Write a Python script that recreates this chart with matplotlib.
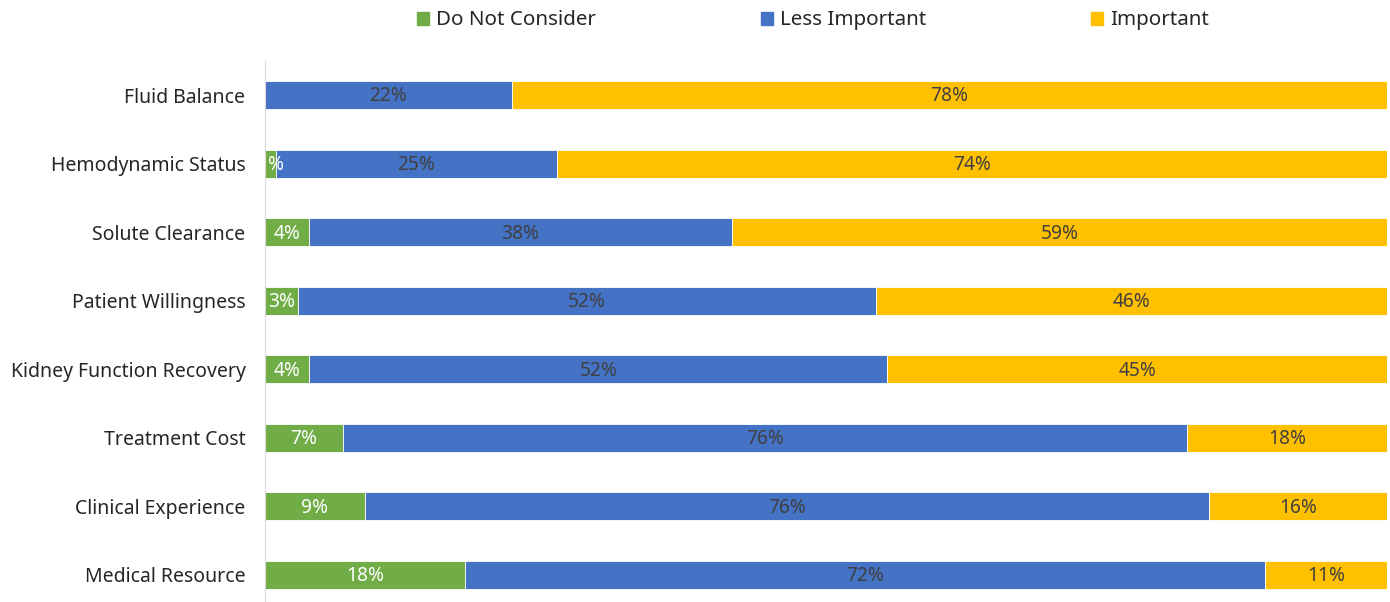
import numpy as np
import matplotlib.pyplot as plt
from matplotlib.patches import Patch

plt.rcParams['font.family'] = ['Noto Sans', 'DejaVu Sans']

categories = ['Fluid Balance', 'Hemodynamic Status', 'Solute Clearance', 'Patient Willingness',
              'Kidney Function Recovery', 'Treatment Cost', 'Clinical Experience', 'Medical Resource']
do_not_consider = [0, 1, 4, 3, 4, 7, 9, 18]
less_important = [22, 25, 38, 52, 52, 76, 76, 72]
important = [78, 74, 59, 46, 45, 18, 16, 11]

series_names = ['Do Not Consider', 'Less Important', 'Important']
series_colors = ['#70ad47', '#4472c4', '#ffc000']
label_colors = ['white', '#404040', '#404040']

data = np.array([do_not_consider, less_important, important], dtype=float)
totals = data.sum(axis=0)
shares = data / totals

fig = plt.figure(figsize=(13.9, 6.02), dpi=100)
ax = fig.add_axes([0.1906, -0.012, 0.8074, 0.911])

y = np.arange(len(categories))
left = np.zeros(len(categories))
for i in range(3):
    ax.barh(y, shares[i], left=left, height=0.41, color=series_colors[i],
            edgecolor='white', linewidth=0.6)
    for j in range(len(categories)):
        if data[i, j] > 0:
            ax.text(left[j] + shares[i, j] / 2, y[j] + 0.02, '%d%%' % data[i, j],
                    ha='center', va='center', fontsize=13.8, color=label_colors[i])
    left += shares[i]

ax.set_xlim(0, 1)
ax.set_ylim(len(categories) - 0.5, -0.5)
ax.set_yticks(y)
ax.set_yticklabels(categories, fontsize=14, color='#262626')
ax.tick_params(axis='y', length=0, pad=14)
ax.set_xticks([])
for s in ['top', 'right', 'bottom']:
    ax.spines[s].set_visible(False)
ax.spines['left'].set_color('#d9d9d9')

handles = [Patch(color=c) for c in series_colors]
fig.legend(handles, series_names, loc='center', bbox_to_anchor=(0.585, 0.966), ncol=3,
           frameon=False, fontsize=14.8, handlelength=0.6, handleheight=0.6,
           handletextpad=0.35, columnspacing=8.0, labelcolor='#262626')

fig.savefig('out.png', dpi=100)
